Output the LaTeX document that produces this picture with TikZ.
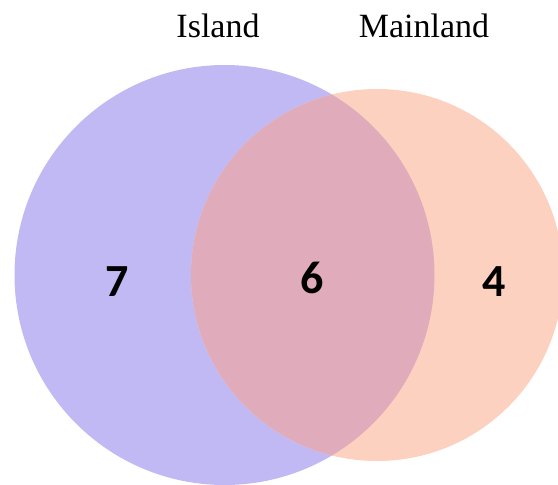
\documentclass[tikz,border=0pt]{standalone}
\usepackage{fontspec}
\setmainfont{Liberation Serif}
\newfontfamily\numfont{Carlito}
\definecolor{islandcol}{RGB}{192,185,243}
\definecolor{mainlandcol}{RGB}{253,209,192}
\definecolor{bothcol}{RGB}{224,171,186}
\begin{document}
\begin{tikzpicture}[x=1pt,y=-1pt]
	\tikzset{setlabel/.style={font=\fontsize{34}{40}\selectfont,anchor=base,inner sep=0pt},
		count/.style={font=\numfont\bfseries\fontsize{46}{50}\selectfont,inner sep=0pt}}
	\useasboundingbox (0,0) rectangle (558,485);
	\begin{scope}
		\clip (0,0) rectangle (558,485);
		\fill[islandcol] (224.5,275) circle (210);
		\fill[mainlandcol] (377,275) circle (186);
		% overlap
		\clip (224.5,275) circle (210);
		\fill[bothcol] (377,275) circle (186);
	\end{scope}
	\node[setlabel] (island) at (218,37) {Island};
	\node[setlabel] (mainland) at (424,37) {Mainland};
	\node[count] (onlyisland) at (117.5,281.5) {7};
	\node[count] (shared) at (312.5,277.5) {6};
	\node[count] (onlymainland) at (494,282) {4};
\end{tikzpicture}
\end{document}
